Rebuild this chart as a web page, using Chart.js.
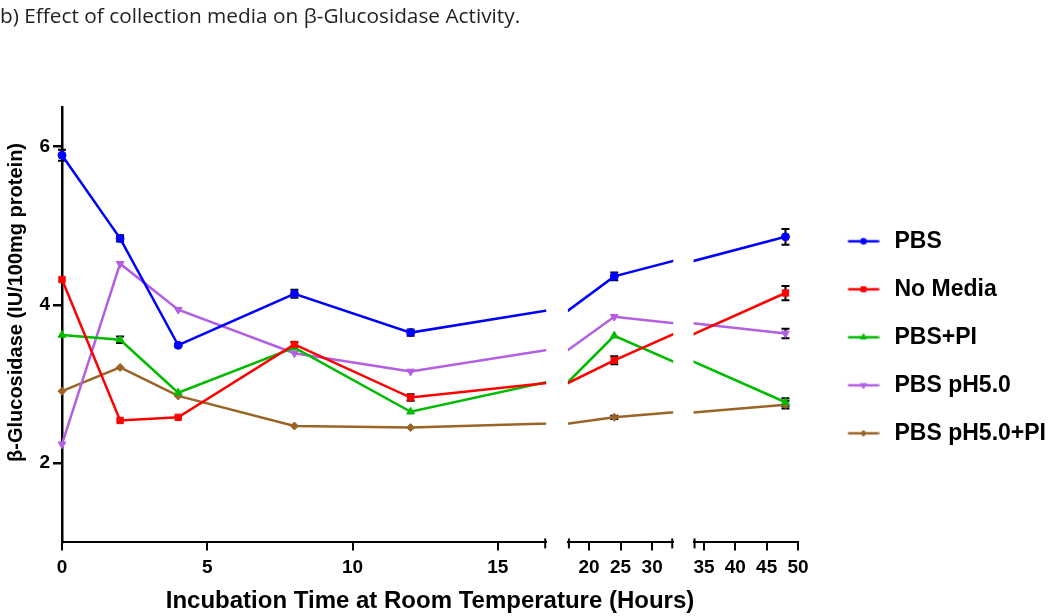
<!DOCTYPE html>
<html>
<head>
<meta charset="utf-8">
<script src="https://cdn.jsdelivr.net/npm/chart.js@4.4.1/dist/chart.umd.min.js"></script>
<style>
    html, body { margin: 0; padding: 0; background: #fff; }
</style>
</head>
<body>
<canvas id="chart" width="1050" height="616"></canvas>
<script>
// incubation times (hours)
var hours = [0, 2, 4, 8, 12, 24, 48];
var seriesNames = ['PBS', 'No Media', 'PBS+PI', 'PBS pH5.0', 'PBS pH5.0+PI'];

// mean activity, IU/100mg protein
var pbs      = [5.89, 4.84, 3.49, 4.14, 3.65, 4.36, 4.86];
var noMedia  = [4.32, 2.54, 2.58, 3.50, 2.83, 3.30, 4.15];
var pbsPi    = [3.62, 3.56, 2.89, 3.46, 2.65, 3.61, 2.77];
var pbsPh5   = [2.24, 4.52, 3.94, 3.39, 3.16, 3.85, 3.64];
var pbsPh5Pi = [2.91, 3.21, 2.85, 2.47, 2.45, 2.58, 2.74];

// error bars (+/-)
var pbsErr      = [0.07, 0.04, 0.02, 0.05, 0.04, 0.05, 0.10];
var noMediaErr  = [0, 0, 0, 0.03, 0.04, 0.05, 0.09];
var pbsPiErr    = [0, 0.04, 0, 0, 0, 0, 0.05];
var pbsPh5Err   = [0, 0, 0, 0, 0, 0, 0.06];
var pbsPh5PiErr = [0, 0, 0, 0, 0, 0.02, 0.05];

// axis ticks and broken x segments
var yTicks = [2, 4, 6];
var xTicksA = [0, 5, 10, 15];
var xTicksB = [20, 25, 30];
var xTicksC = [35, 40, 45, 50];
var xBreaks = [0, 50 / 3, 100 / 3, 50];

var seriesValues = [pbs, noMedia, pbsPi, pbsPh5, pbsPh5Pi];
var seriesErrors = [pbsErr, noMediaErr, pbsPiErr, pbsPh5Err, pbsPh5PiErr];
var colors = ['#0000ff', '#ff0000', '#00bb00', '#b25fe3', '#9a6427'];
var markers = [
    { style: 'circle', r: 4, rot: 0 },
    { style: 'rect', r: 4.5, rot: 0 },
    { style: 'triangle', r: 4.5, rot: 0 },
    { style: 'triangle', r: 4.5, rot: 180 },
    { style: 'rectRot', r: 4, rot: 0 }
];

Chart.defaults.font.family = '"Liberation Sans", Arial, sans-serif';
Chart.defaults.color = '#000';

function axisFor(h) {
    if (h <= xBreaks[1]) return 'x1';
    if (h <= xBreaks[2]) return 'x2';
    return 'x3';
}

// legend icons: short line with the marker in the middle
function legendIcon(s) {
    var c = document.createElement('canvas');
    c.width = 53;
    c.height = 24;
    var g = c.getContext('2d');
    g.strokeStyle = colors[s];
    g.fillStyle = colors[s];
    g.lineWidth = 2.5;
    g.beginPath();
    g.moveTo(21.5, 12);
    g.lineTo(52.5, 12);
    g.stroke();
    g.lineWidth = 1;
    if (Chart.helpers && Chart.helpers.drawPoint) {
        Chart.helpers.drawPoint(g, {
            pointStyle: markers[s].style,
            radius: markers[s].r - 1,
            rotation: markers[s].rot,
            borderWidth: 1
        }, 37, 12);
    } else {
        g.beginPath();
        g.arc(37, 12, 3, 0, Math.PI * 2);
        g.fill();
    }
    return c;
}
var legendIcons = seriesNames.map(function(n, s) { return legendIcon(s); });

// one dataset per series per x segment, each clipped to its own axis
var segments = [
    ['x1', { left: 10, right: 0, top: false, bottom: false }],
    ['x2', { left: 0, right: 0, top: false, bottom: false }],
    ['x3', { left: 0, right: 12, top: false, bottom: false }]
];
var datasets = [];
seriesValues.forEach(function(vals, s) {
    segments.forEach(function(seg) {
        datasets.push({
            label: seriesNames[s],
            data: hours.map(function(h, i) { return { x: h, y: vals[i] }; }),
            xAxisID: seg[0],
            yAxisID: 'y',
            clip: seg[1],
            borderColor: colors[s],
            backgroundColor: colors[s],
            borderWidth: 2.5,
            pointStyle: markers[s].style,
            pointRadius: markers[s].r,
            pointRotation: markers[s].rot,
            pointBorderWidth: 1,
            tension: 0,
            fill: false
        });
    });
});

function segAxis(min, max, ticks, weight) {
    return {
        type: 'linear',
        axis: 'x',
        position: 'bottom',
        stack: 'time',
        stackWeight: weight,
        min: min,
        max: max,
        afterBuildTicks: function(scale) {
            scale.ticks = ticks.map(function(v) { return { value: v }; });
        },
        ticks: {
            autoSkip: false,
            maxRotation: 0,
            padding: 6,
            color: '#000',
            font: { size: 19, weight: 'bold' }
        },
        grid: { drawOnChartArea: false, drawTicks: true, tickLength: 8, color: '#000', lineWidth: 2 },
        border: { display: true, color: '#000', width: 2 }
    };
}

function gapAxis(weight) {
    return {
        type: 'linear',
        axis: 'x',
        position: 'bottom',
        stack: 'time',
        stackWeight: weight,
        min: 0,
        max: 1,
        ticks: { display: false },
        grid: { display: false, drawTicks: false },
        border: { display: false }
    };
}

var extras = {
    id: 'extras',
    beforeDatasetsDraw: function(chart) {
        var ctx = chart.ctx;
        var y = chart.scales.y;
        ctx.save();
        ctx.strokeStyle = '#000';
        ctx.lineWidth = 2;
        seriesValues.forEach(function(vals, s) {
            var errs = seriesErrors[s];
            hours.forEach(function(h, i) {
                var e = errs[i];
                if (!e) return;
                var px = chart.scales[axisFor(h)].getPixelForValue(h);
                var top = y.getPixelForValue(vals[i] + e);
                var bot = y.getPixelForValue(vals[i] - e);
                ctx.beginPath();
                ctx.moveTo(px, top); ctx.lineTo(px, bot);
                ctx.moveTo(px - 4, top); ctx.lineTo(px + 4, top);
                ctx.moveTo(px - 4, bot); ctx.lineTo(px + 4, bot);
                ctx.stroke();
            });
        });
        ctx.restore();
    },
    afterDraw: function(chart) {
        // end marks at the axis breaks
        var ctx = chart.ctx;
        var sc = chart.scales;
        var yb = sc.x1.top;
        ctx.save();
        ctx.strokeStyle = '#000';
        ctx.lineWidth = 2;
        [sc.x1.right - 1, sc.x2.left + 1, sc.x2.right - 1, sc.x3.left + 1].forEach(function(px) {
            ctx.beginPath();
            ctx.moveTo(px, yb - 4);
            ctx.lineTo(px, yb + 6);
            ctx.stroke();
        });
        ctx.restore();
    }
};

new Chart(document.getElementById('chart'), {
    type: 'line',
    data: { datasets: datasets },
    plugins: [extras],
    options: {
        responsive: false,
        animation: false,
        events: [],
        devicePixelRatio: 1,
        layout: { padding: 0 },
        scales: {
            x1: segAxis(xBreaks[0], xBreaks[1], xTicksA, 484),
            xg1: gapAxis(21.7),
            x2: segAxis(xBreaks[1], xBreaks[2], xTicksB, 105.3),
            xg2: gapAxis(20.3),
            x3: segAxis(xBreaks[2], xBreaks[3], xTicksC, 104.4),
            xt: {
                type: 'linear',
                axis: 'x',
                position: 'bottom',
                weight: 1,
                min: 0,
                max: 1,
                ticks: { display: false },
                grid: { display: false, drawTicks: false },
                border: { display: false },
                title: {
                    display: true,
                    text: 'Incubation Time at Room Temperature (Hours)',
                    color: '#000',
                    font: { size: 24, weight: 'bold' },
                    padding: { top: 2, bottom: 0 }
                }
            },
            y: {
                type: 'linear',
                position: 'left',
                min: 1,
                max: 6.5,
                afterBuildTicks: function(scale) {
                    scale.ticks = yTicks.map(function(v) { return { value: v }; });
                },
                afterFit: function(scale) { scale.width = 62; },
                ticks: { padding: 3, color: '#000', font: { size: 19, weight: 'bold' } },
                grid: { drawOnChartArea: false, tickLength: 9, color: '#000', lineWidth: 2.5 },
                border: { color: '#000', width: 2.5 },
                title: {
                    display: true,
                    text: '        β-Glucosidase (IU/100mg protein)',
                    color: '#000',
                    font: { size: 20, weight: 'bold' },
                    padding: { top: 4, bottom: 0 }
                }
            }
        },
        plugins: {
            title: {
                display: true,
                text: 'b) Effect of collection media on β-Glucosidase Activity.',
                align: 'start',
                color: '#222',
                font: { family: '"Open Sans", sans-serif', size: 20.8, weight: 'normal' },
                padding: { top: 5, bottom: 77 }
            },
            legend: {
                position: 'right',
                fullSize: false,
                maxWidth: 252,
                align: 'center',
                title: { display: true, text: '', font: { size: 1 }, padding: { top: 24, bottom: 0 } },
                labels: {
                    usePointStyle: true,
                    pointStyleWidth: 60,
                    padding: 25,
                    color: '#000',
                    font: { size: 23, weight: 'bold' },
                    generateLabels: function(chart) {
                        return seriesNames.map(function(name, s) {
                            return {
                                text: name,
                                pointStyle: legendIcons[s],
                                fillStyle: colors[s],
                                strokeStyle: colors[s],
                                lineWidth: 0,
                                hidden: false,
                                fontColor: '#000',
                                datasetIndex: s * 3
                            };
                        });
                    }
                }
            },
            tooltip: { enabled: false }
        }
    }
});
</script>
</body>
</html>
